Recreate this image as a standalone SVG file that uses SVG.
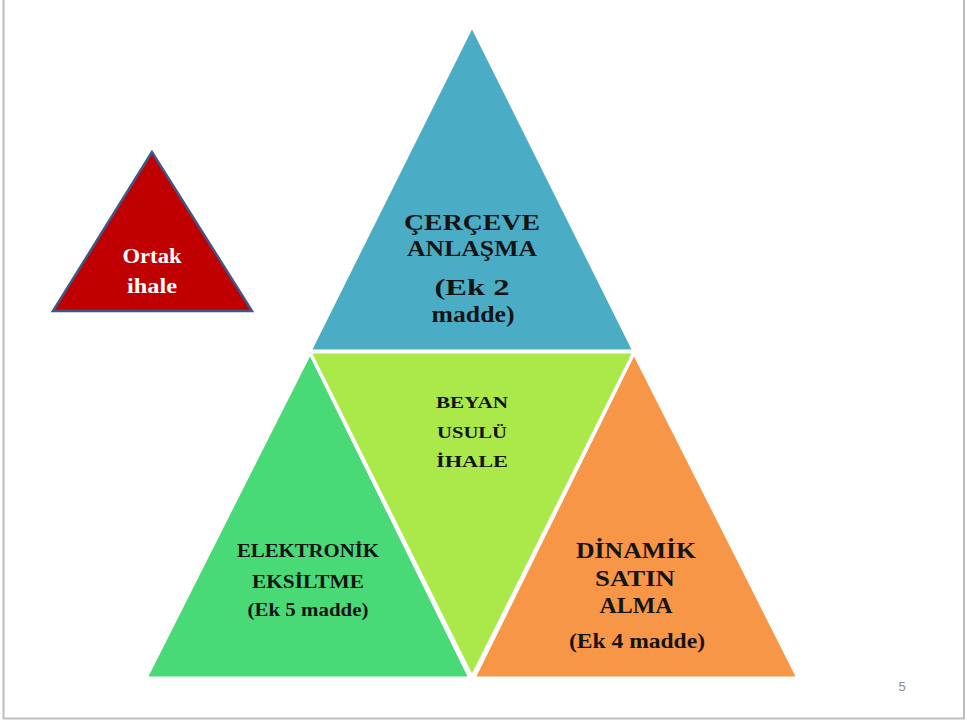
<svg xmlns="http://www.w3.org/2000/svg" width="967" height="720" viewBox="0 0 967 720">
<style>
.t{font-family:"Liberation Serif","Times New Roman",serif;font-weight:bold;fill:#141414;text-anchor:middle}
.w{font-family:"Liberation Serif","Times New Roman",serif;font-weight:bold;fill:#ffffff;text-anchor:middle}
.tri{stroke:#ffffff;stroke-width:3;stroke-linejoin:miter}
</style>
<rect x="0" y="0" width="967" height="720" fill="#ffffff"/>
<g id="frame" fill="none" stroke="#bdbdbd" stroke-width="2">
<line x1="3.5" y1="0" x2="3.5" y2="719"/>
<line x1="964" y1="0" x2="964" y2="719"/>
<line x1="3" y1="718.5" x2="965" y2="718.5"/>
</g>
<g id="cerceve">
<polygon class="tri" points="472,26 310,351 634,351" fill="#4BACC6"/>
<text class="t" x="472" y="230" font-size="23" textLength="136" lengthAdjust="spacingAndGlyphs">ÇERÇEVE</text>
<text class="t" x="472" y="256" font-size="23" textLength="130" lengthAdjust="spacingAndGlyphs">ANLAŞMA</text>
<text class="t" x="472" y="295" font-size="24" textLength="75" lengthAdjust="spacingAndGlyphs">(Ek 2</text>
<text class="t" x="473" y="322" font-size="24" textLength="83" lengthAdjust="spacingAndGlyphs">madde)</text>
</g>
<g id="beyan">
<polygon class="tri" points="310,352 634,352 472,677" fill="#ABE94A"/>
<text class="t" x="472" y="408" font-size="17" textLength="72" lengthAdjust="spacingAndGlyphs">BEYAN</text>
<text class="t" x="472" y="438" font-size="17" textLength="70" lengthAdjust="spacingAndGlyphs">USULÜ</text>
<text class="t" x="472" y="467" font-size="17" textLength="72" lengthAdjust="spacingAndGlyphs">İHALE</text>
</g>
<g id="elektronik">
<polygon class="tri" points="310,353 146,678 470,678" fill="#4AD977"/>
<text class="t" x="308" y="557" font-size="18" textLength="142" lengthAdjust="spacingAndGlyphs">ELEKTRONİK</text>
<text class="t" x="308" y="588" font-size="18" textLength="112" lengthAdjust="spacingAndGlyphs">EKSİLTME</text>
<text class="t" x="308" y="616" font-size="19" textLength="121" lengthAdjust="spacingAndGlyphs">(Ek 5 madde)</text>
</g>
<g id="dinamik">
<polygon class="tri" points="634,353 474,678 798,678" fill="#F79646"/>
<text class="t" x="636" y="558" font-size="23" textLength="120" lengthAdjust="spacingAndGlyphs">DİNAMİK</text>
<text class="t" x="635" y="586" font-size="23" textLength="80" lengthAdjust="spacingAndGlyphs">SATIN</text>
<text class="t" x="636" y="613" font-size="23" textLength="73" lengthAdjust="spacingAndGlyphs">ALMA</text>
<text class="t" x="637" y="648" font-size="22" textLength="136" lengthAdjust="spacingAndGlyphs">(Ek 4 madde)</text>
</g>
<g id="ortak">
<polygon points="152,152 53,311 252,311" fill="#C00000" stroke="#3F5787" stroke-width="2.5" stroke-linejoin="miter"/>
<text class="w" x="152" y="263" font-size="20" textLength="59" lengthAdjust="spacingAndGlyphs">Ortak</text>
<text class="w" x="152" y="293" font-size="20" textLength="50" lengthAdjust="spacingAndGlyphs">ihale</text>
</g>
<text id="page" x="902" y="691" font-family="'Liberation Sans',Arial,sans-serif" font-size="13" fill="#8a8a8a" text-anchor="middle">5</text>
</svg>
